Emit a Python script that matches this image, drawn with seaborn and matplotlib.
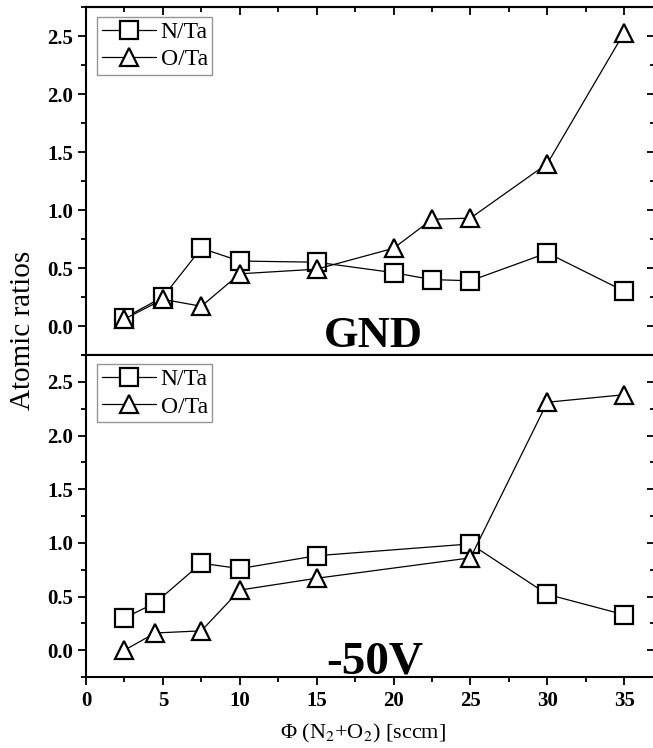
import matplotlib
matplotlib.use("Agg")
import matplotlib.pyplot as plt
import seaborn as sns
import pandas as pd
from matplotlib.ticker import MultipleLocator, FormatStrFormatter, NullFormatter
from matplotlib.lines import Line2D

# Flow values (sccm) and atomic ratios for the two bias conditions
gnd_flow = [2.5, 5, 7.5, 10, 15, 20, 22.5, 25, 30, 35]
gnd_n_ta = [0.07, 0.25, 0.67, 0.56, 0.55, 0.46, 0.40, 0.39, 0.63, 0.30]
gnd_o_ta = [0.06, 0.23, 0.17, 0.45, 0.49, 0.67, 0.92, 0.93, 1.40, 2.53]

bias_flow = [2.5, 4.5, 7.5, 10, 15, 25, 30, 35]
bias_n_ta = [0.30, 0.44, 0.81, 0.76, 0.88, 0.99, 0.52, 0.33]
bias_o_ta = [0.00, 0.16, 0.18, 0.56, 0.67, 0.86, 2.31, 2.38]

panel_labels = ["GND", "-50V"]
series_names = ["N/Ta", "O/Ta"]
series_markers = {"N/Ta": "s", "O/Ta": "^"}

sns.set_theme(style="ticks")
plt.rcParams["font.family"] = ["Liberation Serif", "DejaVu Serif"]
plt.rcParams["mathtext.fontset"] = "stix"
plt.rcParams["text.color"] = "black"
plt.rcParams["axes.labelcolor"] = "black"
plt.rcParams["xtick.color"] = "black"
plt.rcParams["ytick.color"] = "black"

W, H = 653, 748
fig = plt.figure(figsize=(W / 100, H / 100), dpi=100)

def frac_box(x0, y0, x1, y1):
    return [x0 / W, 1 - y1 / H, (x1 - x0) / W, (y1 - y0) / H]

# right edge runs just past the canvas, so the right spine is clipped
ax_top = fig.add_axes(frac_box(86, 7, 655, 355))
ax_bot = fig.add_axes(frac_box(86, 355, 655, 677))

panels = [
    (ax_top, gnd_flow, gnd_n_ta, gnd_o_ta),
    (ax_bot, bias_flow, bias_n_ta, bias_o_ta),
]

marker_kw = dict(color="black", linewidth=0.9, markersize=13,
                 markerfacecolor="white", markeredgecolor="black",
                 markeredgewidth=1.6)

def style_ticks(axis_obj, direction, labels):
    pass

for i, (ax, flow, n_ta, o_ta) in enumerate(panels):
    df = pd.DataFrame({
        "flow": flow * 2,
        "ratio": n_ta + o_ta,
        "series": [series_names[0]] * len(flow) + [series_names[1]] * len(flow),
    })
    for name in series_names:
        sub = df[df["series"] == name]
        sns.lineplot(data=sub, x="flow", y="ratio", ax=ax,
                     marker=series_markers[name], legend=False, **marker_kw)

    ax.set_xlim(0, 37.0)
    ax.set_ylim(-0.25, 2.75)
    ax.xaxis.set_major_locator(MultipleLocator(5))
    ax.xaxis.set_minor_locator(MultipleLocator(2.5))
    ax.yaxis.set_major_locator(MultipleLocator(0.5))
    ax.yaxis.set_minor_locator(MultipleLocator(0.25))
    ax.yaxis.set_major_formatter(FormatStrFormatter("%.1f"))
    ax.set_xlabel("")
    ax.set_ylabel("")

    for sp in ax.spines.values():
        sp.set_linewidth(1.5)
        sp.set_color("black")

    ax.tick_params(axis="both", which="both", direction="out", width=1.3,
                   labelsize=15, left=True, bottom=True, top=False,
                   right=False)
    ax.tick_params(axis="both", which="major", length=6)
    ax.tick_params(axis="both", which="minor", length=3.5)
    ax.tick_params(axis="y", pad=3)
    ax.tick_params(axis="x", pad=4)
    for lbl in ax.get_yticklabels() + ax.get_xticklabels():
        lbl.set_fontweight("bold")

    # mirrored inward ticks on the right side
    sec_y = ax.secondary_yaxis("right")
    sec_y.yaxis.set_major_locator(MultipleLocator(0.5))
    sec_y.yaxis.set_minor_locator(MultipleLocator(0.25))
    sec_y.yaxis.set_major_formatter(NullFormatter())
    sec_y.tick_params(which="both", direction="in", width=1.3)
    sec_y.tick_params(which="major", length=6)
    sec_y.tick_params(which="minor", length=3.5)
    sec_y.spines["right"].set_visible(False)

    handles = [
        Line2D([], [], marker=series_markers[name], **marker_kw)
        for name in series_names
    ]
    leg = ax.legend(handles, series_names, loc="upper left",
                    bbox_to_anchor=(0.019, 0.972), borderaxespad=0,
                    fontsize=17, frameon=True, fancybox=False,
                    edgecolor="#7a7a7a", handlelength=2.3,
                    handletextpad=0.2, borderpad=0.2, labelspacing=0.25)
    leg.get_frame().set_linewidth(1.0)

ax_top.tick_params(axis="x", labelbottom=False)

# mirrored inward ticks along the top of the upper panel
sec_x = ax_top.secondary_xaxis("top")
sec_x.xaxis.set_major_locator(MultipleLocator(5))
sec_x.xaxis.set_minor_locator(MultipleLocator(2.5))
sec_x.xaxis.set_major_formatter(NullFormatter())
sec_x.tick_params(which="both", direction="in", width=1.3)
sec_x.tick_params(which="major", length=6)
sec_x.tick_params(which="minor", length=3.5)
sec_x.spines["top"].set_linewidth(1.5)

# Panel annotations
ax_top.text(18.7, -0.18, panel_labels[0], ha="center", va="baseline",
            fontsize=32, fontweight="bold")
ax_bot.text(18.8, -0.22, panel_labels[1], ha="center", va="baseline",
            fontsize=34, fontweight="bold")

fig.text(23 / W, 1 - 330 / H, "Atomic ratios", rotation=90,
         ha="center", va="center", fontsize=21)
fig.text(363 / W, 1 - 733 / H, "Φ (N$_2$+O$_2$) [sccm]",
         ha="center", va="center", fontsize=16)

fig.savefig("out.png", dpi=100)
